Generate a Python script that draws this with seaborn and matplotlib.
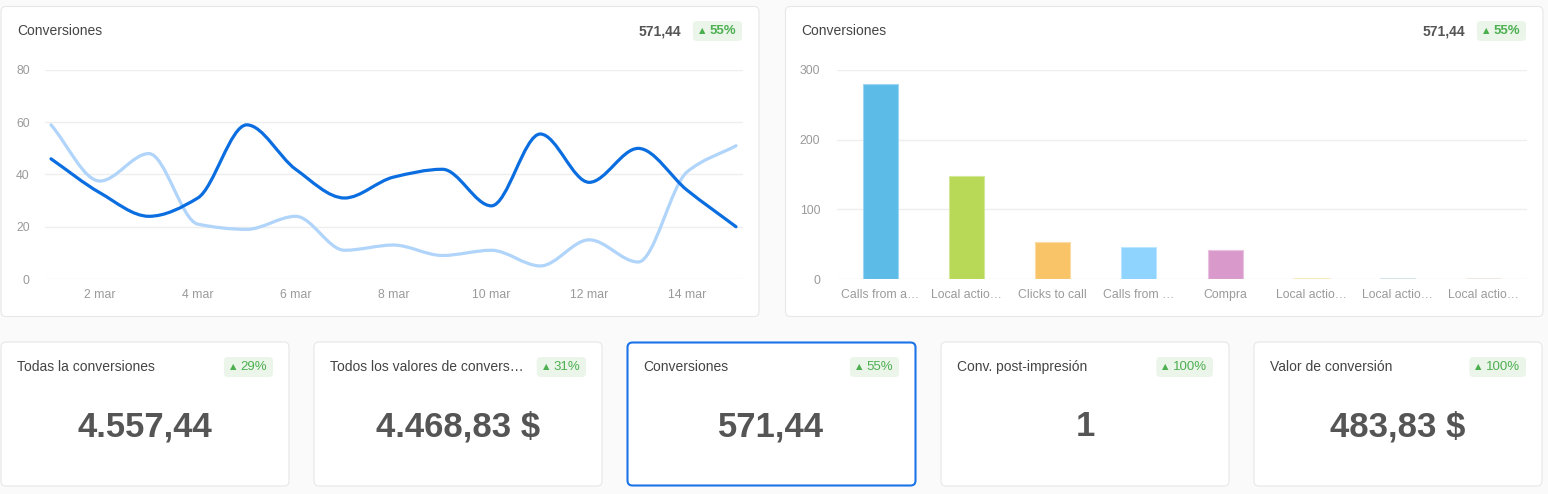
import numpy as np
import pandas as pd
import matplotlib
matplotlib.use("Agg")
import matplotlib.pyplot as plt
from matplotlib.patches import FancyBboxPatch, PathPatch
from matplotlib.path import Path
from matplotlib.transforms import Affine2D
import seaborn as sns

# Dashboard: conversions over time, by action, plus KPI cards

W, H = 1548, 494

days = list(range(1, 16))
conv_current = [46, 33, 24, 31, 59, 42, 31, 39, 42, 28, 55.5, 37, 50, 34, 20]
conv_previous = [59, 37.5, 48, 21, 19, 24, 11, 13, 9, 11, 5, 15, 6.5, 41, 51]
day_ticks = [2, 4, 6, 8, 10, 12, 14]
day_labels = [f"{d} mar" for d in day_ticks]

bar_labels = ["Calls from a…", "Local actio…", "Clicks to call", "Calls from …",
              "Compra", "Local actio…", "Local actio…", "Local actio…"]
bar_values = [280, 147.5, 52.5, 45.5, 41.5, 1.4, 1.4, 1.4]
bar_colors = ["#5dbbe8", "#b8d957", "#f8c467", "#8fd3ff",
              "#d99acb", "#f5e08d", "#bcd0dc", "#e2dccb"]

panel_title = "Conversiones"
panel_total = "571,44"
panel_change = "55%"

kpi_titles = ["Todas la conversiones", "Todos los valores de convers…", "Conversiones",
              "Conv. post-impresión", "Valor de conversión"]
kpi_values = ["4.557,44", "4.468,83 $", "571,44", "1", "483,83 $"]
kpi_changes = ["29%", "31%", "55%", "100%", "100%"]

sns.set_theme(style="white")
plt.rcParams['font.family'] = ['Liberation Sans', 'DejaVu Sans']

fig = plt.figure(figsize=(W / 100, H / 100), dpi=100, facecolor="#fafafa")
# pixel coordinates, origin top-left
pix = Affine2D().scale(0.01, -0.01).translate(0, H * 0.01) + fig.dpi_scale_trans
renderer = fig.canvas.get_renderer()


def card(x0, y0, x1, y1, edge="#e6e6e6", lw=0.75):
    p = FancyBboxPatch((x0, y0), x1 - x0, y1 - y0,
                       boxstyle="round,pad=0,rounding_size=5",
                       facecolor="white", edgecolor=edge, linewidth=lw,
                       transform=pix, zorder=0)
    fig.add_artist(p)


def badge(right, yc, text, weight="bold"):
    t = fig.text(right - 6, yc + 0.5, text, transform=pix, ha="right", va="center",
                 fontsize=9.5, color="#4caf50", fontweight=weight, zorder=3)
    bb = t.get_window_extent(renderer)
    tri = fig.text(bb.x0 - 4, yc - 0.5, "▲", transform=pix, ha="right", va="center",
                   fontsize=6, color="#4caf50", family="DejaVu Sans", zorder=3)
    left = tri.get_window_extent(renderer).x0 - 6
    b = FancyBboxPatch((left, yc - 10), right - left, 20,
                       boxstyle="round,pad=0,rounding_size=4",
                       facecolor="#ebf5ea", edgecolor="none", transform=pix, zorder=2)
    fig.add_artist(b)
    return left


def header(x0, x1):
    fig.text(x0 + 16, 31, panel_title, transform=pix, ha="left", va="center",
             fontsize=10, color="#444444")
    left = badge(x1 - 17, 31, panel_change)
    fig.text(left - 12, 31, panel_total, transform=pix, ha="right", va="center",
             fontsize=10, color="#555555", fontweight="bold")


def smooth_line(ax, x, y, color):
    x = np.asarray(x, float)
    y = np.asarray(y, float)
    h = np.diff(x)
    d = np.diff(y) / h
    m = np.zeros_like(y)
    m[0], m[-1] = d[0], d[-1]
    for k in range(1, len(y) - 1):
        if d[k - 1] * d[k] > 0:
            m[k] = 2 / (1 / d[k - 1] + 1 / d[k])
    verts = [(x[0], y[0])]
    codes = [Path.MOVETO]
    for i in range(len(x) - 1):
        verts += [(x[i] + h[i] / 3, y[i] + m[i] * h[i] / 3),
                  (x[i + 1] - h[i] / 3, y[i + 1] - m[i + 1] * h[i] / 3),
                  (x[i + 1], y[i + 1])]
        codes += [Path.CURVE4] * 3
    ax.add_patch(PathPatch(Path(verts, codes), fill=False, edgecolor=color,
                           linewidth=2.3, capstyle="round", zorder=3))


def style_axes(ax):
    ax.patch.set_visible(False)
    for s in ax.spines.values():
        s.set_visible(False)
    ax.grid(axis="y", color="#eeeeee", linewidth=1)
    ax.grid(axis="x", visible=False)
    ax.tick_params(length=0, labelsize=8.8, labelcolor="#9a9a9a")
    ax.set_xlabel("")
    ax.set_ylabel("")


# cards
card(1, 6.5, 759, 316.5)
card(785.5, 6.5, 1543, 316.5)
kpi_x = [1, 314, 627, 941, 1254]
for i, x0 in enumerate(kpi_x):
    if i == 2:
        card(x0 + 0.5, 342.5, x0 + 288.5, 485.5, edge="#1a73e8", lw=1.5)
    else:
        card(x0, 342, x0 + 288, 486)

# line chart
ax1 = fig.add_axes([45 / W, 1 - 279 / H, 698 / W, 209 / H])
smooth_line(ax1, days, conv_previous, "#b0d4fa")
smooth_line(ax1, days, conv_current, "#0a6de0")
ax1.set_xlim(1 - 6 / 49, 15 + 7 / 49)
ax1.set_ylim(0, 80)
ax1.set_yticks([0, 20, 40, 60, 80])
ax1.set_xticks(day_ticks)
ax1.set_xticklabels(day_labels)
style_axes(ax1)
ax1.tick_params(axis="y", pad=11)
ax1.tick_params(axis="x", pad=7)
header(1, 759)

# bar chart
ax2 = fig.add_axes([837 / W, 1 - 279 / H, 690 / W, 209 / H])
df = pd.DataFrame({"cat": list(range(len(bar_values))), "value": bar_values})
sns.barplot(data=df, x="cat", y="value", hue="cat", palette=bar_colors,
            saturation=1, legend=False, width=0.405, ax=ax2, zorder=3)
for patch, c in zip(ax2.patches, bar_colors):
    rgb = np.array(matplotlib.colors.to_rgb(c))
    patch.set_edgecolor(rgb + (1 - rgb) * 0.4)
    patch.set_linewidth(0.8)
ax2.set_xlim(-0.5, len(bar_values) - 0.5)
ax2.set_ylim(0, 300)
ax2.set_yticks([0, 100, 200, 300])
ax2.set_xticks(range(len(bar_labels)))
ax2.set_xticklabels(bar_labels)
style_axes(ax2)
ax2.tick_params(axis="y", pad=12)
ax2.tick_params(axis="x", pad=7)
header(785.5, 1543)

# KPI cards
for x0, title, value, change in zip(kpi_x, kpi_titles, kpi_values, kpi_changes):
    fig.text(x0 + 16, 367, title, transform=pix, ha="left", va="center",
             fontsize=10, color="#444444")
    badge(x0 + 272, 367, change, weight="normal")
    fig.text(x0 + 144, 427, value, transform=pix, ha="center", va="center",
             fontsize=25, color="#555555", fontweight="bold")

fig.savefig("out.png", dpi=100, facecolor=fig.get_facecolor())
